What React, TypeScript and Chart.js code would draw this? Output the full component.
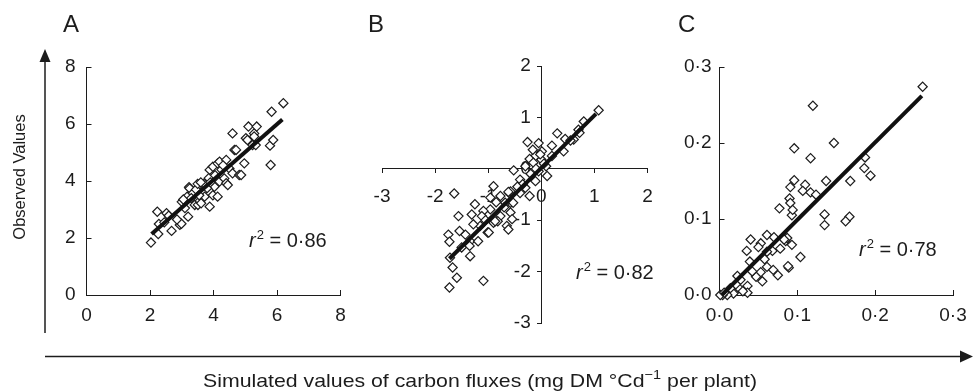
import React, { useEffect, useRef } from 'react';
import { Chart, registerables } from 'chart.js';

Chart.register(...registerables);

const W = 973;
const H = 392;
const FONT = '"Liberation Sans", Arial, Helvetica, sans-serif';
const INK = '#1c1c1c';

// ---------- Data ----------
const panelLetters = ['A', 'B', 'C'];
const yTitle = 'Observed Values';
const xTitleMain = 'Simulated values of carbon fluxes (mg DM °Cd';
const xTitleSup = '\u22121';
const xTitleEnd = ' per plant)';

// Panel A
const aTicks = [0, 2, 4, 6, 8];
const aSim = [2.03, 2.23, 2.28, 2.26, 2.52, 2.59, 2.68, 2.94, 2.99, 3.0, 3.2, 3.23, 3.17, 3.25, 3.35, 3.41, 3.51, 3.57, 3.61, 3.67, 3.67, 3.72, 3.88, 3.88, 3.98, 3.98, 4.03, 4.13, 4.13, 4.19, 4.19, 4.34, 4.4, 4.45, 4.4, 4.5, 4.6, 4.6, 4.66, 4.71, 4.81, 4.87, 4.97, 5.02, 5.07, 5.1, 5.23, 5.28, 5.28, 5.36, 5.33, 5.8, 5.78, 5.88, 5.83, 6.2, 3.05, 3.3, 3.45, 3.55, 3.7, 3.8, 3.85, 3.9, 4.05, 4.25, 4.3, 3.5, 3.6, 2.85, 2.45, 3.1];
const aObs = [1.84, 2.92, 2.49, 2.14, 2.87, 2.78, 2.25, 2.46, 2.5, 3.27, 2.75, 3.78, 3.45, 3.74, 3.57, 3.16, 3.16, 3.3, 3.22, 3.68, 3.63, 3.45, 3.1, 4.39, 4.5, 3.5, 3.8, 3.45, 4.62, 4.68, 3.98, 4.09, 3.92, 3.86, 4.74, 4.44, 4.27, 5.67, 5.09, 5.09, 4.21, 4.21, 4.62, 5.5, 5.44, 5.91, 5.26, 5.67, 5.56, 5.91, 5.26, 4.56, 5.24, 5.44, 6.43, 6.73, 3.35, 3.4, 3.7, 3.5, 3.9, 3.75, 4.1, 3.95, 4.2, 4.4, 4.55, 3.9, 3.95, 2.65, 2.55, 3.05];
const aFitX = [2.05, 6.17];
const aFitY = [2.14, 6.16];
const aR2 = '0·86';

// Panel B
const bTicks = [-3, -2, -1, 0, 1, 2];
const bSim = [1.08, 0.8, 0.7, 0.61, 0.45, 0.42, 0.3, 0.2, 0.01, 0.0, 0.11, -0.11, -0.05, -0.26, -0.16, -0.22, -0.52, -0.22, -0.3, -0.4, -0.11, -0.6, -0.58, -0.65, -0.58, -0.77, -0.9, -0.96, -0.77, -0.82, -0.96, -1.09, -1.12, -1.15, -1.01, -0.9, -1.25, -1.31, -1.28, -1.43, -1.34, -1.19, -1.56, -1.64, -1.54, -1.75, -1.73, -1.35, -1.34, -1.5, -1.72, -1.67, -1.59, -1.73, -1.09, -0.68, -0.58, -0.4, -0.62, -0.53, -0.55, -0.62, -0.87, -0.99, -0.02, -0.15, 0.09, -0.05, -0.2, 0.2, 0.55, 0.72, -0.35, -0.45, -0.7, -0.85, -1.05, -0.3, 0.05, -0.1];
const bObs = [1.14, 0.92, 0.76, 0.57, 0.58, 0.34, 0.69, 0.45, 0.34, 0.18, -0.14, 0.25, 0.5, 0.52, 0.37, 0.19, -0.03, -0.53, -0.37, -0.21, -0.24, -0.47, -0.66, -1.11, -0.85, -0.53, -0.34, -0.56, -0.92, -1.02, -0.79, -0.82, -0.92, -1.11, -1.24, -1.05, -0.69, -0.89, -1.08, -1.28, -1.41, -1.41, -0.92, -0.48, -1.21, -1.28, -1.42, -1.5, -1.7, -1.53, -1.73, -1.92, -2.12, -2.31, -2.18, -0.66, -0.44, -0.47, -0.45, -0.66, -0.98, -1.18, -1.02, -1.24, 0.28, 0.12, 0.05, -0.05, -0.1, 0.25, 0.55, 0.7, -0.3, -0.35, -0.75, -0.65, -1.0, 0.05, 0.1, 0.0];
const bFitX = [-1.73, 1.03];
const bFitY = [-1.75, 1.07];
const bR2 = '0·82';

// Panel C
const cTicks = [0, 0.1, 0.2, 0.3];
const cSim = [0.261, 0.12, 0.147, 0.096, 0.117, 0.187, 0.186, 0.194, 0.168, 0.137, 0.096, 0.091, 0.11, 0.107, 0.117, 0.124, 0.09, 0.091, 0.077, 0.093, 0.094, 0.135, 0.135, 0.167, 0.162, 0.04, 0.035, 0.053, 0.061, 0.07, 0.078, 0.085, 0.093, 0.104, 0.058, 0.061, 0.069, 0.075, 0.089, 0.053, 0.047, 0.055, 0.042, 0.039, 0.023, 0.027, 0.036, 0.036, 0.025, 0.018, 0.01, 0.004, 0.001, 0.014, 0.021, 0.068, 0.061, 0.087, 0.05, 0.083, 0.088, 0.006, 0.03];
const cObs = [0.274, 0.249, 0.2, 0.193, 0.18, 0.181, 0.167, 0.157, 0.15, 0.15, 0.151, 0.142, 0.145, 0.137, 0.135, 0.132, 0.127, 0.121, 0.114, 0.105, 0.112, 0.106, 0.092, 0.103, 0.097, 0.073, 0.058, 0.068, 0.079, 0.076, 0.061, 0.071, 0.066, 0.05, 0.047, 0.037, 0.033, 0.026, 0.036, 0.03, 0.024, 0.018, 0.031, 0.044, 0.025, 0.02, 0.012, 0.003, 0.009, 0.002, 0.0, 0.0, 0.0, 0.009, 0.014, 0.058, 0.057, 0.075, 0.063, 0.073, 0.038, 0.003, 0.005];
const cFitX = [0.003, 0.26];
const cFitY = [0.0, 0.262];
const cR2 = '0·78';

// ---------- Layout ----------
type PanelCfg = {
  area: [number, number, number, number];
  ticks: number[];
  sim: number[];
  obs: number[];
  fitX: number[];
  fitY: number[];
  fmt: (v: number) => string;
  cross: boolean;
  yPad: number;
  r2: string;
  r2Pos: [number, number];
  decor: boolean;
};

const intFmt = (v: number) => String(Math.round(v));
const decFmt = (v: number) => v.toFixed(1).replace('.', '·');

const panels: PanelCfg[] = [
  { area: [86.5, 67, 340.5, 295], ticks: aTicks, sim: aSim, obs: aObs, fitX: aFitX, fitY: aFitY, fmt: intFmt, cross: false, yPad: 16, r2: aR2, r2Pos: [249, 247], decor: true },
  { area: [382, 66, 647.5, 323], ticks: bTicks, sim: bSim, obs: bObs, fitX: bFitX, fitY: bFitY, fmt: intFmt, cross: true, yPad: 0, r2: bR2, r2Pos: [576, 279], decor: false },
  { area: [719.5, 67, 953, 295], ticks: cTicks, sim: cSim, obs: cObs, fitX: cFitX, fitY: cFitY, fmt: decFmt, cross: false, yPad: 13, r2: cR2, r2Pos: [859, 256], decor: false },
];

const Y_BOX = 70;
const X_BOX = 50;

function drawR2(ctx: CanvasRenderingContext2D, x: number, y: number, val: string) {
  ctx.save();
  ctx.fillStyle = INK;
  ctx.textBaseline = 'alphabetic';
  ctx.textAlign = 'left';
  ctx.font = `italic 20px ${FONT}`;
  ctx.fillText('r', x, y);
  let cx = x + ctx.measureText('r').width + 1;
  ctx.font = `13px ${FONT}`;
  ctx.fillText('2', cx, y - 8);
  cx += ctx.measureText('2').width;
  ctx.font = `20px ${FONT}`;
  ctx.fillText(' = ' + val, cx, y);
  ctx.restore();
}

function drawDecor(ctx: CanvasRenderingContext2D) {
  ctx.save();
  ctx.fillStyle = INK;
  ctx.strokeStyle = INK;
  // panel letters
  ctx.font = `24px ${FONT}`;
  ctx.textBaseline = 'alphabetic';
  ctx.textAlign = 'left';
  const letterX = [63, 368, 678];
  panelLetters.forEach((l, i) => ctx.fillText(l, letterX[i], 32));
  // vertical arrow
  ctx.lineWidth = 1.5;
  ctx.beginPath();
  ctx.moveTo(45, 333);
  ctx.lineTo(45, 58);
  ctx.stroke();
  ctx.beginPath();
  ctx.moveTo(45, 49);
  ctx.lineTo(39.5, 62);
  ctx.lineTo(50.5, 62);
  ctx.closePath();
  ctx.fill();
  // horizontal arrow
  ctx.beginPath();
  ctx.moveTo(45, 356.5);
  ctx.lineTo(964, 356.5);
  ctx.stroke();
  ctx.beginPath();
  ctx.moveTo(973, 356.5);
  ctx.lineTo(960, 350.5);
  ctx.lineTo(960, 362.5);
  ctx.closePath();
  ctx.fill();
  // y title
  ctx.save();
  ctx.translate(20, 177);
  ctx.rotate(-Math.PI / 2);
  ctx.font = `16.5px ${FONT}`;
  ctx.textAlign = 'center';
  ctx.textBaseline = 'middle';
  ctx.fillText(yTitle, 0, 0);
  ctx.restore();
  // x title (fitted to the reference span)
  const big = `19px ${FONT}`;
  const small = `13px ${FONT}`;
  ctx.font = big;
  const w1 = ctx.measureText(xTitleMain).width;
  const w3 = ctx.measureText(xTitleEnd).width;
  ctx.font = small;
  const w2 = ctx.measureText(xTitleSup).width;
  const total = w1 + w2 + w3;
  const left = 203;
  const span = 554;
  const sx = span / total;
  const base = 387;
  ctx.save();
  ctx.translate(left, base);
  ctx.scale(sx, 1);
  ctx.textAlign = 'left';
  let x = 0;
  ctx.font = big;
  ctx.fillText(xTitleMain, x, 0);
  x += w1;
  ctx.font = small;
  ctx.fillText(xTitleSup, x, -8);
  x += w2;
  ctx.font = big;
  ctx.fillText(xTitleEnd, x, 0);
  ctx.restore();
  ctx.restore();
}

function buildConfig(p: PanelCfg): any {
  const [l, t, r, b] = p.area;
  const tickLen = p.cross ? 4 : -5;
  const mkScale = (horizontal: boolean) => ({
    type: 'linear',
    min: p.ticks[0],
    max: p.ticks[p.ticks.length - 1],
    position: p.cross ? (horizontal ? { y: 0 } : { x: 0 }) : horizontal ? 'bottom' : 'left',
    afterBuildTicks: (s: any) => {
      s.ticks = p.ticks.map((v) => ({ value: v }));
    },
    afterFit: (s: any) => {
      if (horizontal) s.height = p.cross ? 0 : X_BOX;
      else s.width = p.cross ? 0 : Y_BOX;
      s.paddingLeft = 0;
      s.paddingRight = 0;
      s.paddingTop = 0;
      s.paddingBottom = 0;
    },
    ticks: {
      callback: (v: number) => (p.cross && !horizontal ? p.fmt(v) + '  ' : p.fmt(v)),
      color: INK,
      font: { family: FONT, size: 19 },
      padding: horizontal ? (p.cross ? 13 : 14) : p.yPad,
      autoSkip: false,
      maxRotation: 0,
      minRotation: 0,
    },
    grid: {
      display: true,
      drawOnChartArea: false,
      drawTicks: true,
      tickLength: tickLen,
      color: INK,
      lineWidth: 1,
    },
    border: { display: true, color: INK, width: 1 },
  });
  const pts = p.sim.map((x, i) => ({ x, y: p.obs[i] }));
  const fit = p.fitX.map((x, i) => ({ x, y: p.fitY[i] }));
  const padLeft = p.cross ? l : l - Y_BOX;
  const padBottom = p.cross ? H - b : H - b - X_BOX;
  return {
    type: 'scatter',
    data: {
      datasets: [
        {
          data: fit,
          showLine: true,
          borderColor: '#111',
          borderWidth: 4,
          pointRadius: 0,
          fill: false,
          clip: false,
          borderCapStyle: 'butt',
        },
        {
          data: pts,
          pointStyle: 'rectRot',
          pointRadius: 4.6,
          pointBorderWidth: 1.2,
          pointBackgroundColor: '#ffffff',
          pointBorderColor: INK,
          showLine: false,
          clip: false,
        },
      ],
    },
    options: {
      animation: false,
      responsive: false,
      maintainAspectRatio: false,
      events: [],
      layout: { padding: { left: padLeft, top: t, right: W - r, bottom: padBottom } },
      plugins: { legend: { display: false }, tooltip: { enabled: false }, title: { display: false } },
      scales: { x: mkScale(true), y: mkScale(false) },
    },
    plugins: [
      {
        id: 'annot',
        afterDraw: (chart: any) => {
          const ctx = chart.ctx as CanvasRenderingContext2D;
          drawR2(ctx, p.r2Pos[0], p.r2Pos[1], p.r2);
          if (p.decor) drawDecor(ctx);
        },
      },
    ],
  };
}

function App() {
  const refs = [useRef<HTMLCanvasElement>(null), useRef<HTMLCanvasElement>(null), useRef<HTMLCanvasElement>(null)];
  useEffect(() => {
    const charts = panels.map((p, i) => new Chart(refs[i].current as HTMLCanvasElement, buildConfig(p)));
    return () => charts.forEach((c) => c.destroy());
  }, []);
  return (
    <div style={{ position: 'absolute', left: 0, top: 0, width: W, height: H, background: '#fff' }}>
      {refs.map((r, i) => (
        <canvas key={i} ref={r} width={W} height={H} style={{ position: 'absolute', left: 0, top: 0, width: W, height: H }} />
      ))}
    </div>
  );
}

export default App;
